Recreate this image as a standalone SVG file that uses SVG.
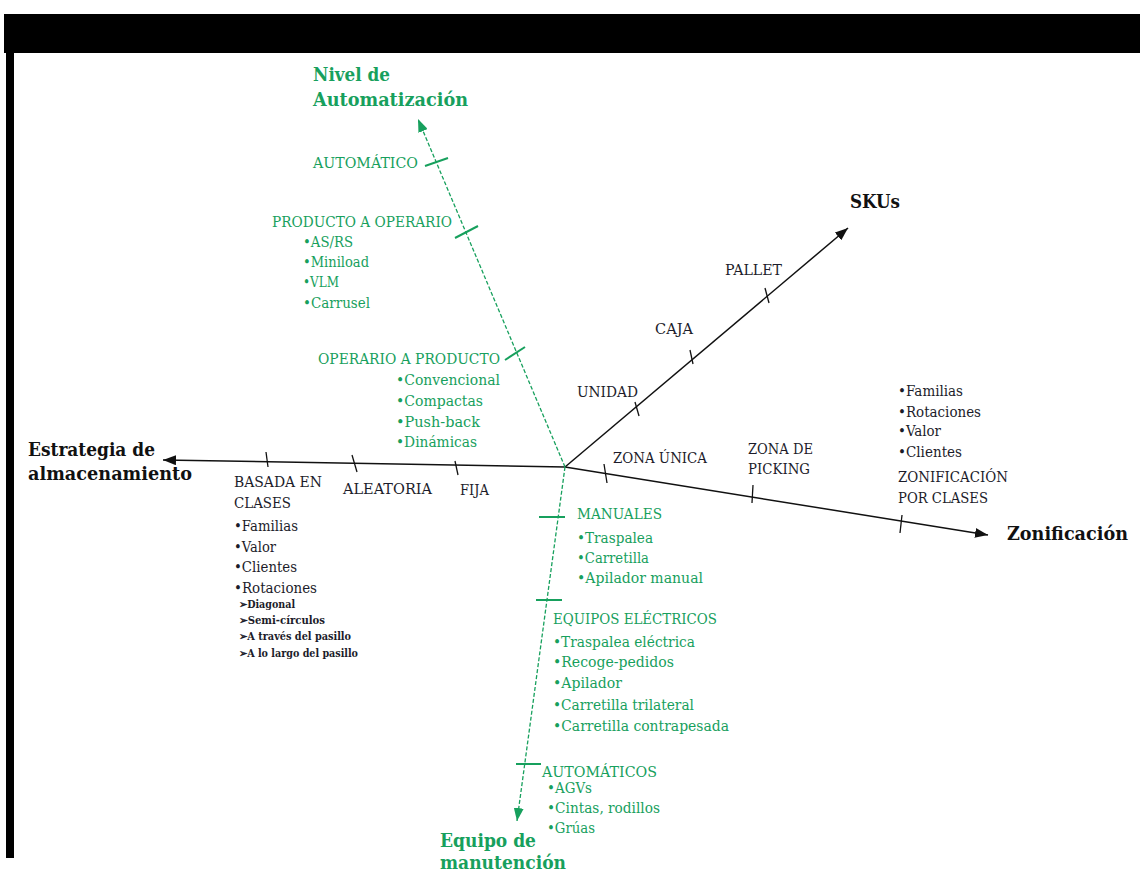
<svg xmlns="http://www.w3.org/2000/svg" width="1140" height="878" viewBox="0 0 1140 878">
  <style>
    text { font-family: "DejaVu Serif", "Liberation Serif", serif; }
    .t { font-size: 14px; fill: #1c1c2a; }
    .g { font-size: 14px; fill: #17a05d; }
    .s { font-size: 10.5px; font-weight: bold; fill: #1c1c2a; }
    .h { font-size: 19px; font-weight: bold; fill: #111111; }
    .hg { font-size: 19px; font-weight: bold; fill: #17a05d; }
    .ax { stroke: #111111; stroke-width: 1.5; fill: none; }
    .axg { stroke: #17a05d; stroke-width: 1.3; stroke-dasharray: 4 2; fill: none; }
    .tk { stroke: #111111; stroke-width: 1.3; }
    .tkg { stroke: #17a05d; stroke-width: 2; }
  </style>
  <defs>
    <marker id="arrowK" viewBox="0 0 13 10" refX="13" refY="5" markerWidth="13" markerHeight="10" markerUnits="userSpaceOnUse" orient="auto">
      <path d="M0,0 L13,5 L0,10 z" fill="#111111"/>
    </marker>
    <marker id="arrowG" viewBox="0 0 13 10" refX="13" refY="5" markerWidth="13" markerHeight="10" markerUnits="userSpaceOnUse" orient="auto">
      <path d="M0,0 L13,5 L0,10 z" fill="#17a05d"/>
    </marker>
  </defs>

  <rect width="1140" height="878" fill="#ffffff"/>
  <!-- frame -->
  <rect x="4" y="14" width="1136" height="39" fill="#000000"/>
  <rect x="6" y="53" width="8" height="805" fill="#000000"/>

  <!-- axes and ticks -->
  <g id="connectors">
    <line class="ax" x1="565" y1="467" x2="163" y2="460" marker-end="url(#arrowK)"/>
    <line class="ax" x1="565" y1="467" x2="848" y2="228" marker-end="url(#arrowK)"/>
    <line class="ax" x1="565" y1="467" x2="988" y2="535" marker-end="url(#arrowK)"/>
    <line class="axg" x1="565" y1="467" x2="418" y2="119" marker-end="url(#arrowG)"/>
    <line class="axg" x1="565" y1="467" x2="517" y2="821" marker-end="url(#arrowG)"/>

    <line class="tk" x1="266" y1="452" x2="268" y2="467"/>
    <line class="tk" x1="352" y1="455" x2="357" y2="472"/>
    <line class="tk" x1="455" y1="461" x2="458" y2="475"/>
    <line class="tk" x1="635" y1="402" x2="639" y2="416"/>
    <line class="tk" x1="690" y1="350" x2="693" y2="364"/>
    <line class="tk" x1="765" y1="288" x2="769" y2="303"/>
    <line class="tk" x1="604" y1="464" x2="607" y2="483"/>
    <line class="tk" x1="753" y1="485" x2="752" y2="503"/>
    <line class="tk" x1="902" y1="515" x2="900" y2="533"/>

    <line class="tkg" x1="425" y1="166" x2="448" y2="158"/>
    <line class="tkg" x1="455" y1="238" x2="478" y2="226"/>
    <line class="tkg" x1="505" y1="360" x2="525" y2="347"/>
    <line class="tkg" x1="539" y1="517" x2="565" y2="517"/>
    <line class="tkg" x1="536" y1="600" x2="562" y2="600"/>
    <line class="tkg" x1="516" y1="764" x2="541" y2="764"/>
  </g>

  <!-- axis: nivel de automatizacion -->
  <g id="nivel-automatizacion">
    <text class="hg" x="313" y="81" textLength="77" lengthAdjust="spacingAndGlyphs">Nivel de</text>
    <text class="hg" x="313" y="106" textLength="155" lengthAdjust="spacingAndGlyphs">Automatización</text>
  </g>
  <g id="automatico">
    <text class="g" x="313" y="168" textLength="105" lengthAdjust="spacingAndGlyphs">AUTOMÁTICO</text>
  </g>
  <g id="producto-a-operario">
    <text class="g" x="272" y="227" textLength="180" lengthAdjust="spacingAndGlyphs">PRODUCTO A OPERARIO</text>
    <text class="g" x="303" y="247" textLength="50" lengthAdjust="spacingAndGlyphs">•AS/RS</text>
    <text class="g" x="303" y="267" textLength="66" lengthAdjust="spacingAndGlyphs">•Miniload</text>
    <text class="g" x="303" y="287" textLength="36" lengthAdjust="spacingAndGlyphs">•VLM</text>
    <text class="g" x="303" y="308" textLength="67" lengthAdjust="spacingAndGlyphs">•Carrusel</text>
  </g>
  <g id="operario-a-producto">
    <text class="g" x="318" y="364" textLength="182" lengthAdjust="spacingAndGlyphs">OPERARIO A PRODUCTO</text>
    <text class="g" x="396" y="385" textLength="104" lengthAdjust="spacingAndGlyphs">•Convencional</text>
    <text class="g" x="396" y="406" textLength="87" lengthAdjust="spacingAndGlyphs">•Compactas</text>
    <text class="g" x="396" y="427" textLength="84" lengthAdjust="spacingAndGlyphs">•Push-back</text>
    <text class="g" x="396" y="447" textLength="81" lengthAdjust="spacingAndGlyphs">•Dinámicas</text>
  </g>

  <!-- axis: SKUs -->
  <g id="skus">
    <text class="h" x="850" y="208" textLength="50" lengthAdjust="spacingAndGlyphs">SKUs</text>
  </g>
  <g id="pallet"><text class="t" x="725" y="275" textLength="57" lengthAdjust="spacingAndGlyphs">PALLET</text></g>
  <g id="caja"><text class="t" x="655" y="334" textLength="38" lengthAdjust="spacingAndGlyphs">CAJA</text></g>
  <g id="unidad"><text class="t" x="577" y="397" textLength="61" lengthAdjust="spacingAndGlyphs">UNIDAD</text></g>

  <!-- axis: zonificacion -->
  <g id="zonificacion">
    <text class="h" x="1007" y="540" textLength="121" lengthAdjust="spacingAndGlyphs">Zonificación</text>
  </g>
  <g id="zona-unica"><text class="t" x="613" y="463" textLength="94" lengthAdjust="spacingAndGlyphs">ZONA ÚNICA</text></g>
  <g id="zona-picking">
    <text class="t" x="748" y="454" textLength="65" lengthAdjust="spacingAndGlyphs">ZONA DE</text>
    <text class="t" x="748" y="474" textLength="62" lengthAdjust="spacingAndGlyphs">PICKING</text>
  </g>
  <g id="zonificacion-clases">
    <text class="t" x="898" y="396" textLength="65" lengthAdjust="spacingAndGlyphs">•Familias</text>
    <text class="t" x="898" y="417" textLength="83" lengthAdjust="spacingAndGlyphs">•Rotaciones</text>
    <text class="t" x="898" y="436" textLength="43" lengthAdjust="spacingAndGlyphs">•Valor</text>
    <text class="t" x="898" y="457" textLength="64" lengthAdjust="spacingAndGlyphs">•Clientes</text>
    <text class="t" x="898" y="482" textLength="110" lengthAdjust="spacingAndGlyphs">ZONIFICACIÓN</text>
    <text class="t" x="898" y="503" textLength="90" lengthAdjust="spacingAndGlyphs">POR CLASES</text>
  </g>

  <!-- axis: estrategia de almacenamiento -->
  <g id="estrategia">
    <text class="h" x="28" y="456" textLength="127" lengthAdjust="spacingAndGlyphs">Estrategia de</text>
    <text class="h" x="28" y="480" textLength="164" lengthAdjust="spacingAndGlyphs">almacenamiento</text>
  </g>
  <g id="fija"><text class="t" x="460" y="495" textLength="29" lengthAdjust="spacingAndGlyphs">FIJA</text></g>
  <g id="aleatoria"><text class="t" x="343" y="494" textLength="89" lengthAdjust="spacingAndGlyphs">ALEATORIA</text></g>
  <g id="basada-en-clases">
    <text class="t" x="234" y="487" textLength="88" lengthAdjust="spacingAndGlyphs">BASADA EN</text>
    <text class="t" x="234" y="508" textLength="57" lengthAdjust="spacingAndGlyphs">CLASES</text>
    <text class="t" x="234" y="531" textLength="64" lengthAdjust="spacingAndGlyphs">•Familias</text>
    <text class="t" x="234" y="552" textLength="42" lengthAdjust="spacingAndGlyphs">•Valor</text>
    <text class="t" x="234" y="572" textLength="63" lengthAdjust="spacingAndGlyphs">•Clientes</text>
    <text class="t" x="234" y="593" textLength="83" lengthAdjust="spacingAndGlyphs">•Rotaciones</text>
    <text class="s" x="239" y="608" textLength="56" lengthAdjust="spacingAndGlyphs">➢Diagonal</text>
    <text class="s" x="239" y="624" textLength="86" lengthAdjust="spacingAndGlyphs">➢Semi-círculos</text>
    <text class="s" x="239" y="640" textLength="112" lengthAdjust="spacingAndGlyphs">➢A través del pasillo</text>
    <text class="s" x="239" y="657" textLength="119" lengthAdjust="spacingAndGlyphs">➢A lo largo del pasillo</text>
  </g>

  <!-- axis: equipo de manutencion -->
  <g id="manuales">
    <text class="g" x="577" y="519" textLength="85" lengthAdjust="spacingAndGlyphs">MANUALES</text>
    <text class="g" x="577" y="543" textLength="76" lengthAdjust="spacingAndGlyphs">•Traspalea</text>
    <text class="g" x="577" y="563" textLength="72" lengthAdjust="spacingAndGlyphs">•Carretilla</text>
    <text class="g" x="577" y="583" textLength="126" lengthAdjust="spacingAndGlyphs">•Apilador manual</text>
  </g>
  <g id="equipos-electricos">
    <text class="g" x="553" y="624" textLength="164" lengthAdjust="spacingAndGlyphs">EQUIPOS ELÉCTRICOS</text>
    <text class="g" x="553" y="647" textLength="142" lengthAdjust="spacingAndGlyphs">•Traspalea eléctrica</text>
    <text class="g" x="553" y="667" textLength="121" lengthAdjust="spacingAndGlyphs">•Recoge-pedidos</text>
    <text class="g" x="553" y="688" textLength="69" lengthAdjust="spacingAndGlyphs">•Apilador</text>
    <text class="g" x="553" y="710" textLength="141" lengthAdjust="spacingAndGlyphs">•Carretilla trilateral</text>
    <text class="g" x="553" y="731" textLength="176" lengthAdjust="spacingAndGlyphs">•Carretilla contrapesada</text>
  </g>
  <g id="automaticos">
    <text class="g" x="542" y="777" textLength="115" lengthAdjust="spacingAndGlyphs">AUTOMÁTICOS</text>
    <text class="g" x="547" y="793" textLength="45" lengthAdjust="spacingAndGlyphs">•AGVs</text>
    <text class="g" x="547" y="813" textLength="113" lengthAdjust="spacingAndGlyphs">•Cintas, rodillos</text>
    <text class="g" x="547" y="833" textLength="48" lengthAdjust="spacingAndGlyphs">•Grúas</text>
  </g>
  <g id="equipo-manutencion">
    <text class="hg" x="440" y="847" textLength="96" lengthAdjust="spacingAndGlyphs">Equipo de</text>
    <text class="hg" x="440" y="869" textLength="126" lengthAdjust="spacingAndGlyphs">manutención</text>
  </g>
</svg>
